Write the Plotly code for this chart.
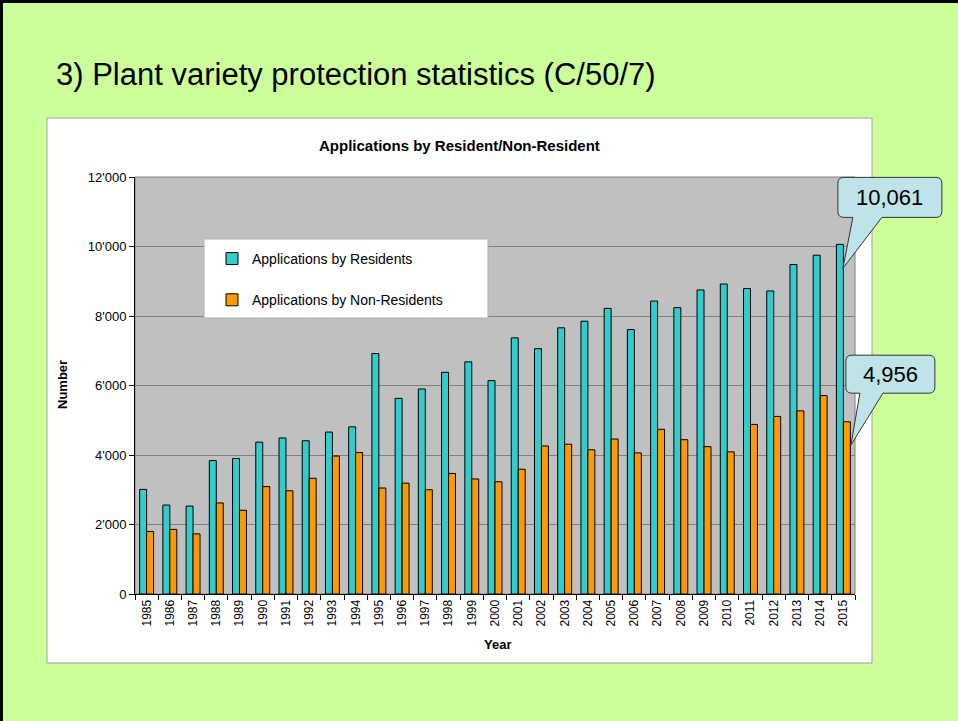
import plotly.graph_objects as go

years = [str(y) for y in range(1985, 2016)]
residents = [3010, 2560, 2530, 3840, 3900, 4370, 4490, 4410, 4660, 4810,
             6920, 5630, 5900, 6380, 6680, 6140, 7370, 7060, 7660, 7850,
             8220, 7610, 8430, 8240, 8750, 8920, 8790, 8720, 9480, 9750, 10061]
non_residents = [1800, 1860, 1730, 2620, 2410, 3090, 2970, 3330, 3970, 4070,
                 3050, 3190, 3000, 3470, 3310, 3230, 3590, 4260, 4310, 4150,
                 4460, 4060, 4740, 4440, 4240, 4090, 4880, 5110, 5270, 5710, 4956]
y_ticks = [0, 2000, 4000, 6000, 8000, 10000, 12000]
y_tick_labels = ["0", "2'000", "4'000", "6'000", "8'000", "10'000", "12'000"]

W, H = 958, 721
L, R, T, B = 135, 855, 177, 594  # plot area in pixels
y_max = y_ticks[-1]
last = len(years) - 1  # index of the last category (callout anchor)
last_x = (last + 0.5) / len(years)  # centre of last category, as a paper fraction


def px(x):
    return (x - L) / (R - L)


def py(y):
    return (B - y) / (B - T)


def bubble(x0, x1, y0, y1, b0, b1, tx, ty, r=6):
    # rounded box (pixel offsets, y up) with a wedge pointing to (tx, ty)
    return (f"M{x0 + r},{y0} L{b0},{y0} L{tx},{ty} L{b1},{y0} L{x1 - r},{y0} "
            f"Q{x1},{y0} {x1},{y0 + r} L{x1},{y1 - r} Q{x1},{y1} {x1 - r},{y1} "
            f"L{x0 + r},{y1} Q{x0},{y1} {x0},{y1 - r} L{x0},{y0 + r} Q{x0},{y0} {x0 + r},{y0} Z")


font = "Liberation Sans, Arial, sans-serif"

fig = go.Figure()
fig.add_trace(go.Bar(x=years, y=residents, name="Applications by Residents",
                     marker=dict(color="#33CCCC", line=dict(color="black", width=1)),
                     legendgroup="a"))
fig.add_trace(go.Bar(x=years, y=non_residents, name="Applications by Non-Residents",
                     marker=dict(color="#FF9900", line=dict(color="black", width=1)),
                     legendgroup="b"))

shapes = [
    # white chart area
    dict(type="rect", xref="paper", yref="paper", x0=px(47), x1=px(872), y0=py(663), y1=py(118),
         fillcolor="white", line=dict(color="#A0A0A0", width=1), layer="below"),
    # grey plot area
    dict(type="rect", xref="paper", yref="paper", x0=0, x1=1, y0=0, y1=1,
         fillcolor="#C0C0C0", line=dict(color="#808080", width=1), layer="below"),
    # legend box
    dict(type="rect", xref="paper", yref="paper", x0=px(204), x1=px(488), y0=py(318), y1=py(239),
         fillcolor="white", line=dict(color="#B0B0B0", width=1), layer="above"),
    # slide border
    dict(type="rect", xref="paper", yref="paper", x0=px(0), x1=px(3), y0=py(721), y1=py(0),
         fillcolor="black", line=dict(width=0)),
    dict(type="rect", xref="paper", yref="paper", x0=px(0), x1=px(958), y0=py(3), y1=py(0),
         fillcolor="black", line=dict(width=0)),
    # callouts (paper refs so they are not clipped by the plot area)
    dict(type="path", xref="paper", yref="paper", xsizemode="pixel", ysizemode="pixel",
         xanchor=last_x, yanchor=residents[-1] / y_max,
         path=bubble(-5.5, 98.5, 27, 67, 9.5, 38.5, -0.5, -24),
         fillcolor="#BEE3E8", line=dict(color="#333333", width=1), layer="above"),
    dict(type="path", xref="paper", yref="paper", xsizemode="pixel", ysizemode="pixel",
         xanchor=last_x, yanchor=non_residents[-1] / y_max,
         path=bubble(2.5, 91.5, 28.6, 66.6, 16.5, 39.5, 7.5, -23.4),
         fillcolor="#BEE3E8", line=dict(color="#333333", width=1), layer="above"),
]

annotations = [
    dict(text="3) Plant variety protection statistics (C/50/7)", xref="paper", yref="paper",
         x=px(54), y=py(75), xanchor="left", yanchor="middle", showarrow=False,
         font=dict(family=font, size=31, color="black")),
    dict(text="<b>Applications by Resident/Non-Resident</b>", xref="paper", yref="paper",
         x=px(459), y=py(145), xanchor="center", yanchor="middle", showarrow=False,
         font=dict(family=font, size=15, color="black")),
    dict(text="<b>Number</b>", xref="paper", yref="paper", x=px(62), y=py(385),
         xanchor="center", yanchor="middle", textangle=-90, showarrow=False,
         font=dict(family=font, size=13, color="black")),
    dict(text="<b>Year</b>", xref="paper", yref="paper", x=px(497), y=py(644),
         xanchor="center", yanchor="middle", showarrow=False,
         font=dict(family=font, size=13, color="black")),
    dict(text=f"{residents[-1]:,}", xref="x", yref="y", x=last, y=residents[-1],
         xshift=46.5, yshift=47, showarrow=False,
         font=dict(family=font, size=22, color="black")),
    dict(text=f"{non_residents[-1]:,}", xref="x", yref="y", x=last, y=non_residents[-1],
         xshift=47, yshift=47, showarrow=False,
         font=dict(family=font, size=22, color="black")),
]

fig.update_layout(
    width=W, height=H,
    margin=dict(l=L, r=W - R, t=T, b=H - B, pad=0),
    paper_bgcolor="#CCFF99",
    plot_bgcolor="rgba(0,0,0,0)",
    barmode="group", bargap=0.4, bargroupgap=0,
    font=dict(family=font, size=12, color="black"),
    showlegend=True,
    legend=dict(x=px(212), y=py(243), xanchor="left", yanchor="top",
                bgcolor="rgba(0,0,0,0)", traceorder="grouped", tracegroupgap=20,
                font=dict(family=font, size=14, color="black"), itemwidth=30),
    shapes=shapes,
    annotations=annotations,
)
fig.update_xaxes(type="category", range=[-0.5, len(years) - 0.5], tickangle=-90,
                 tickson="boundaries", ticks="outside", ticklen=5, tickcolor="black",
                 showline=True, linecolor="black", linewidth=1, showgrid=False,
                 tickfont=dict(size=12))
fig.update_yaxes(range=[0, y_max], tickvals=y_ticks, ticktext=y_tick_labels,
                 ticks="outside", ticklen=5, tickcolor="black", showline=True,
                 linecolor="black", linewidth=1, showgrid=True, gridcolor="#808080",
                 gridwidth=1, zeroline=False, tickfont=dict(size=13))

fig.write_html("out.html", config={"displayModeBar": False},
               post_script="document.body.style.margin='0';")
